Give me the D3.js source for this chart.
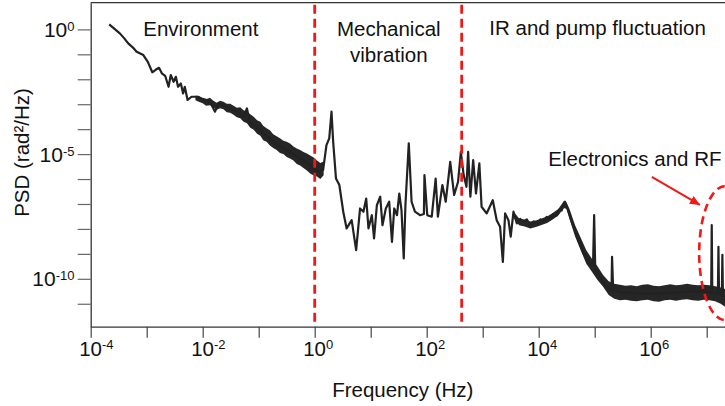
<!DOCTYPE html>
<html lang="en">
<head>
  <meta charset="utf-8">
  <title>Phase noise PSD</title>
  <style>
    body { margin: 0; background: #fff; }
    svg { display: block; font-family: "Liberation Sans", Arial, sans-serif; }
  </style>
</head>
<body>
  <div id="chart"></div>
  <script src="https://cdn.jsdelivr.net/npm/d3@7"></script>
  <script>
    // trace: [log10 frequency, log10 PSD]
    var trace = [
      [-3.67, 0.20], [-3.58, 0.03], [-3.48, -0.16], [-3.40, -0.36], [-3.33, -0.56], [-3.25, -0.72],
      [-3.18, -0.90], [-3.06, -1.03], [-2.98, -1.30], [-2.90, -1.72], [-2.84, -1.62], [-2.78, -1.54],
      [-2.73, -1.76], [-2.67, -1.86], [-2.61, -2.30], [-2.57, -1.83], [-2.52, -2.10], [-2.48, -1.90],
      [-2.44, -2.30], [-2.39, -2.17], [-2.35, -2.57], [-2.32, -2.30], [-2.27, -2.83], [-2.20, -2.70],
      [-2.11, -2.70], [-2.02, -2.77], [-1.93, -2.83], [-1.87, -2.90], [-1.78, -3.30], [-1.72, -2.97],
      [-1.63, -3.04], [-1.51, -3.17], [-1.39, -3.30], [-1.27, -3.50], [-1.21, -3.17], [-1.16, -3.70],
      [-1.04, -3.91], [-0.92, -4.17], [-0.80, -4.37], [-0.68, -4.64], [-0.56, -4.77], [-0.44, -4.91],
      [-0.32, -5.11], [-0.20, -5.24], [-0.08, -5.44], [0.01, -5.64], [0.09, -5.71], [0.15, -5.64],
      [0.21, -4.64], [0.26, -4.37], [0.30, -3.30], [0.33, -4.51], [0.38, -5.98], [0.44, -6.24],
      [0.51, -7.31], [0.57, -7.98], [0.66, -7.65], [0.74, -8.85], [0.81, -7.18], [0.87, -7.31],
      [0.92, -6.78], [0.96, -7.98], [1.02, -7.45], [1.06, -8.38], [1.11, -7.05], [1.17, -6.71],
      [1.21, -7.85], [1.27, -7.18], [1.33, -6.91], [1.38, -8.52], [1.42, -7.18], [1.47, -7.45],
      [1.51, -6.58], [1.55, -7.25], [1.59, -9.18], [1.62, -7.05], [1.68, -4.57], [1.73, -6.91],
      [1.79, -7.31], [1.88, -7.45], [1.95, -7.40], [1.96, -5.84], [2.01, -7.45], [2.09, -7.51],
      [2.16, -5.98], [2.20, -7.51], [2.28, -6.24], [2.34, -6.91], [2.42, -5.31], [2.49, -6.64],
      [2.56, -6.11], [2.61, -4.91], [2.66, -5.84], [2.71, -6.31], [2.74, -4.91], [2.78, -6.71],
      [2.83, -5.24], [2.88, -6.58], [2.94, -5.37], [2.98, -7.11], [3.07, -7.38], [3.18, -6.85],
      [3.25, -7.65], [3.31, -7.91], [3.36, -9.32], [3.40, -7.38], [3.46, -7.65], [3.50, -8.31],
      [3.55, -7.31], [3.61, -7.78], [3.67, -7.60], [3.73, -7.72], [3.79, -7.62], [3.85, -7.90],
      [3.91, -7.70], [3.97, -7.82], [4.03, -7.62], [4.08, -7.74], [4.14, -7.52], [4.20, -7.62],
      [4.26, -7.40], [4.32, -7.46], [4.37, -7.22], [4.41, -7.26], [4.47, -6.91], [4.53, -7.31],
      [4.62, -7.91], [4.71, -8.45], [4.80, -8.98], [4.89, -9.32], [4.97, -9.45], [4.99, -7.45],
      [5.01, -9.65], [5.10, -9.92], [5.21, -10.32], [5.30, -10.45], [5.31, -9.12], [5.33, -10.48],
      [5.45, -10.52], [5.60, -10.55], [5.80, -10.58], [6.00, -10.60], [6.20, -10.57], [6.40, -10.55],
      [6.60, -10.52], [6.80, -10.50], [7.00, -10.52], [7.08, -10.55], [7.09, -7.85], [7.10, -10.55],
      [7.20, -10.60], [7.21, -8.72], [7.22, -10.62], [7.27, -10.65], [7.28, -9.04], [7.29, -10.70],
      [7.35, -10.80]
    ];

    // noisy parts of the trace drawn as a band: [log10 f, log10 low, log10 high]; null breaks it
    var band = [
      [-2.13, -2.84, -2.66], [-2.07, -2.90, -2.66], [-2.00, -2.96, -2.76], [-1.94, -3.06, -2.80],
      [-1.87, -3.04, -2.74], [-1.81, -3.12, -2.86], [-1.75, -3.22, -2.94], [-1.69, -3.16, -2.86],
      [-1.63, -3.20, -2.90], [-1.57, -3.32, -2.98], [-1.51, -3.34, -2.98], [-1.45, -3.42, -3.06],
      [-1.39, -3.52, -3.14], [-1.33, -3.56, -3.12], [-1.27, -3.70, -3.24], [-1.21, -3.76, -3.30],
      [-1.15, -3.94, -3.40], [-1.09, -4.02, -3.50], [-1.03, -4.18, -3.64], [-0.97, -4.26, -3.70],
      [-0.92, -4.44, -3.86], [-0.86, -4.50, -3.96], [-0.80, -4.66, -4.04], [-0.74, -4.76, -4.20],
      [-0.68, -4.84, -4.28], [-0.62, -4.96, -4.36], [-0.56, -5.00, -4.46], [-0.50, -5.12, -4.50],
      [-0.44, -5.18, -4.58], [-0.38, -5.26, -4.70], [-0.32, -5.40, -4.78], [-0.26, -5.46, -4.84],
      [-0.20, -5.56, -4.92], [-0.14, -5.66, -4.98], [-0.08, -5.78, -5.06], [-0.02, -5.86, -5.14],
      [0.04, -5.90, -5.26], [0.10, -6.00, -5.36], [0.16, -5.85, -5.30],
      null,
      [3.55, -7.55, -7.30], [3.65, -7.85, -7.58], [3.75, -7.90, -7.62], [3.85, -7.98, -7.70],
      [3.95, -7.92, -7.66], [4.05, -7.84, -7.58], [4.15, -7.76, -7.50], [4.25, -7.62, -7.36],
      [4.35, -7.46, -7.20], [4.45, -7.16, -6.88], [4.50, -7.20, -6.95], [4.55, -7.60, -7.20],
      [4.65, -8.30, -7.85], [4.75, -8.85, -8.35], [4.85, -9.40, -8.85], [4.95, -9.72, -9.20],
      [5.05, -10.05, -9.50], [5.15, -10.32, -9.85], [5.25, -10.65, -10.10], [5.35, -10.80, -10.20],
      [5.45, -10.86, -10.24], [5.55, -10.84, -10.28], [5.65, -10.88, -10.26], [5.75, -10.90, -10.30],
      [5.85, -10.86, -10.24], [5.95, -10.84, -10.22], [6.05, -10.90, -10.28], [6.15, -10.92, -10.30],
      [6.25, -10.86, -10.26], [6.35, -10.84, -10.22], [6.45, -10.88, -10.26], [6.55, -10.84, -10.24],
      [6.65, -10.82, -10.20], [6.75, -10.86, -10.24], [6.85, -10.88, -10.26], [6.95, -10.84, -10.24],
      [7.05, -10.86, -10.26], [7.15, -10.90, -10.30], [7.25, -11.00, -10.35], [7.35, -11.15, -10.42],
      [7.40, -11.25, -10.45]
    ];

    var xTickExps = [-4, -3, -2, -1, 0, 1, 2, 3, 4, 5, 6, 7];
    var xLabelExps = [-4, -2, 0, 2, 4, 6];
    var yTickExps = [0, -1, -2, -3, -4, -5, -6, -7, -8, -9, -10, -11];
    var yLabelExps = [0, -5, -10];
    var boundaryLogF = [0, 2.625];
    var regionNames = ["Environment", "Mechanical", "vibration", "IR and pump fluctuation", "Electronics and RF"];

    var width = 725, height = 406;
    var red = "#f01818";

    var svg = d3.select("#chart").append("svg")
      .attr("width", width)
      .attr("height", height);

    var x = d3.scaleLog().domain([1e-4, 1e8]).range([90.7, 762.7]);
    var y = d3.scaleLog().domain([Math.pow(10, -11.92), Math.pow(10, 1.07)]).range([326.7, 2.7]);
    var px = function (e) { return x(Math.pow(10, e)); };
    var py = function (e) { return y(Math.pow(10, e)); };

    // axes
    var xAxis = d3.axisBottom(x)
      .tickValues(xTickExps.map(function (e) { return Math.pow(10, e); }))
      .tickSize(11).tickSizeOuter(0).tickFormat("");
    var gx = svg.append("g").attr("transform", "translate(0," + y.range()[0] + ")").call(xAxis);
    gx.select(".domain").attr("stroke", "#333").attr("stroke-width", 1.3);
    gx.selectAll(".tick line").attr("stroke", "#444").attr("stroke-width", 1.2);

    var yAxis = d3.axisLeft(y)
      .tickValues(yTickExps.map(function (e) { return Math.pow(10, e); }))
      .tickSize(13).tickSizeOuter(0).tickFormat("");
    var gy = svg.append("g").attr("transform", "translate(" + x.range()[0] + ",0)").call(yAxis);
    gy.select(".domain").attr("stroke", "#333").attr("stroke-width", 1.3);
    gy.selectAll(".tick line").attr("stroke", "#666").attr("stroke-width", 1.2);

    // top frame line
    svg.append("line")
      .attr("x1", x.range()[0]).attr("x2", x.range()[1])
      .attr("y1", y.range()[1]).attr("y2", y.range()[1])
      .attr("stroke", "#333").attr("stroke-width", 1.3);

    // tick labels
    svg.selectAll(".xlab").data(xLabelExps).join("text")
      .attr("class", "xlab")
      .attr("x", function (d) { return px(d) - 11.5; })
      .attr("y", 356)
      .attr("font-size", 20.5)
      .attr("fill", "#111")
      .call(function (t) {
        t.append("tspan").text("10");
        t.append("tspan").attr("dy", -7).attr("font-size", 13).text(function (d) { return d; });
      });

    svg.selectAll(".ylab").data(yLabelExps).join("text")
      .attr("class", "ylab")
      .attr("x", 74.5)
      .attr("y", function (d) { return py(d) + 7.5; })
      .attr("text-anchor", "end")
      .attr("font-size", 21)
      .attr("fill", "#111")
      .call(function (t) {
        t.append("tspan").text("10");
        t.append("tspan").attr("dy", -6).attr("font-size", 13).text(function (d) { return d; });
      });

    // axis titles
    svg.append("text")
      .attr("x", 402.8).attr("y", 397)
      .attr("text-anchor", "middle")
      .attr("font-size", 20.5).attr("fill", "#111")
      .text("Frequency (Hz)");

    svg.append("text")
      .attr("transform", "translate(29,152.5) rotate(-90)")
      .attr("text-anchor", "middle")
      .attr("font-size", 20.5).attr("fill", "#111")
      .text("PSD (rad\u00b2/Hz)");

    // noisy band + trace
    var area = d3.area()
      .defined(function (d) { return d !== null; })
      .x(function (d) { return px(d[0]); })
      .y0(function (d) { return py(d[1]); })
      .y1(function (d) { return py(d[2]); });

    svg.append("path")
      .attr("d", area(band))
      .attr("fill", "#262626");

    var line = d3.line()
      .x(function (d) { return px(d[0]); })
      .y(function (d) { return py(d[1]); });

    svg.append("path")
      .attr("d", line(trace))
      .attr("fill", "none")
      .attr("stroke", "#222")
      .attr("stroke-width", 2.2)
      .attr("stroke-linejoin", "round");

    // region boundaries
    svg.selectAll(".boundary").data(boundaryLogF).join("line")
      .attr("class", "boundary")
      .attr("x1", function (d) { return px(d); })
      .attr("x2", function (d) { return px(d); })
      .attr("y1", y.range()[1] + 2)
      .attr("y2", y.range()[0])
      .attr("stroke", red)
      .attr("stroke-width", 2.8)
      .attr("stroke-dasharray", "9,5");

    // region labels
    var label = function (txt, xx, yy, anchor) {
      svg.append("text")
        .attr("x", xx).attr("y", yy)
        .attr("text-anchor", anchor || "start")
        .attr("font-size", 20.5).attr("fill", "#111")
        .text(txt);
    };
    label(regionNames[0], 143.3, 36);
    label(regionNames[1], 388.8, 36, "middle");
    label(regionNames[2], 388.8, 61.5, "middle");
    label(regionNames[3], 489.3, 35);
    label(regionNames[4], 548.3, 165.7);

    // arrow + dashed ellipse round the RF spikes
    svg.append("defs").append("marker")
      .attr("id", "head")
      .attr("markerUnits", "userSpaceOnUse")
      .attr("markerWidth", 12).attr("markerHeight", 10)
      .attr("refX", 10).attr("refY", 4.5)
      .attr("orient", "auto")
      .append("path")
      .attr("d", "M0,0 L10,4.5 L0,9 Z")
      .attr("fill", red);

    svg.append("line")
      .attr("x1", px(6.02)).attr("y1", py(-5.91))
      .attr("x2", px(6.88)).attr("y2", py(-7.04))
      .attr("stroke", red)
      .attr("stroke-width", 2)
      .attr("marker-end", "url(#head)");

    svg.append("ellipse")
      .attr("cx", px(7.33)).attr("cy", py(-8.97))
      .attr("rx", 26).attr("ry", 67)
      .attr("fill", "none")
      .attr("stroke", red)
      .attr("stroke-width", 2.6)
      .attr("stroke-dasharray", "8,5");
  </script>
</body>
</html>
